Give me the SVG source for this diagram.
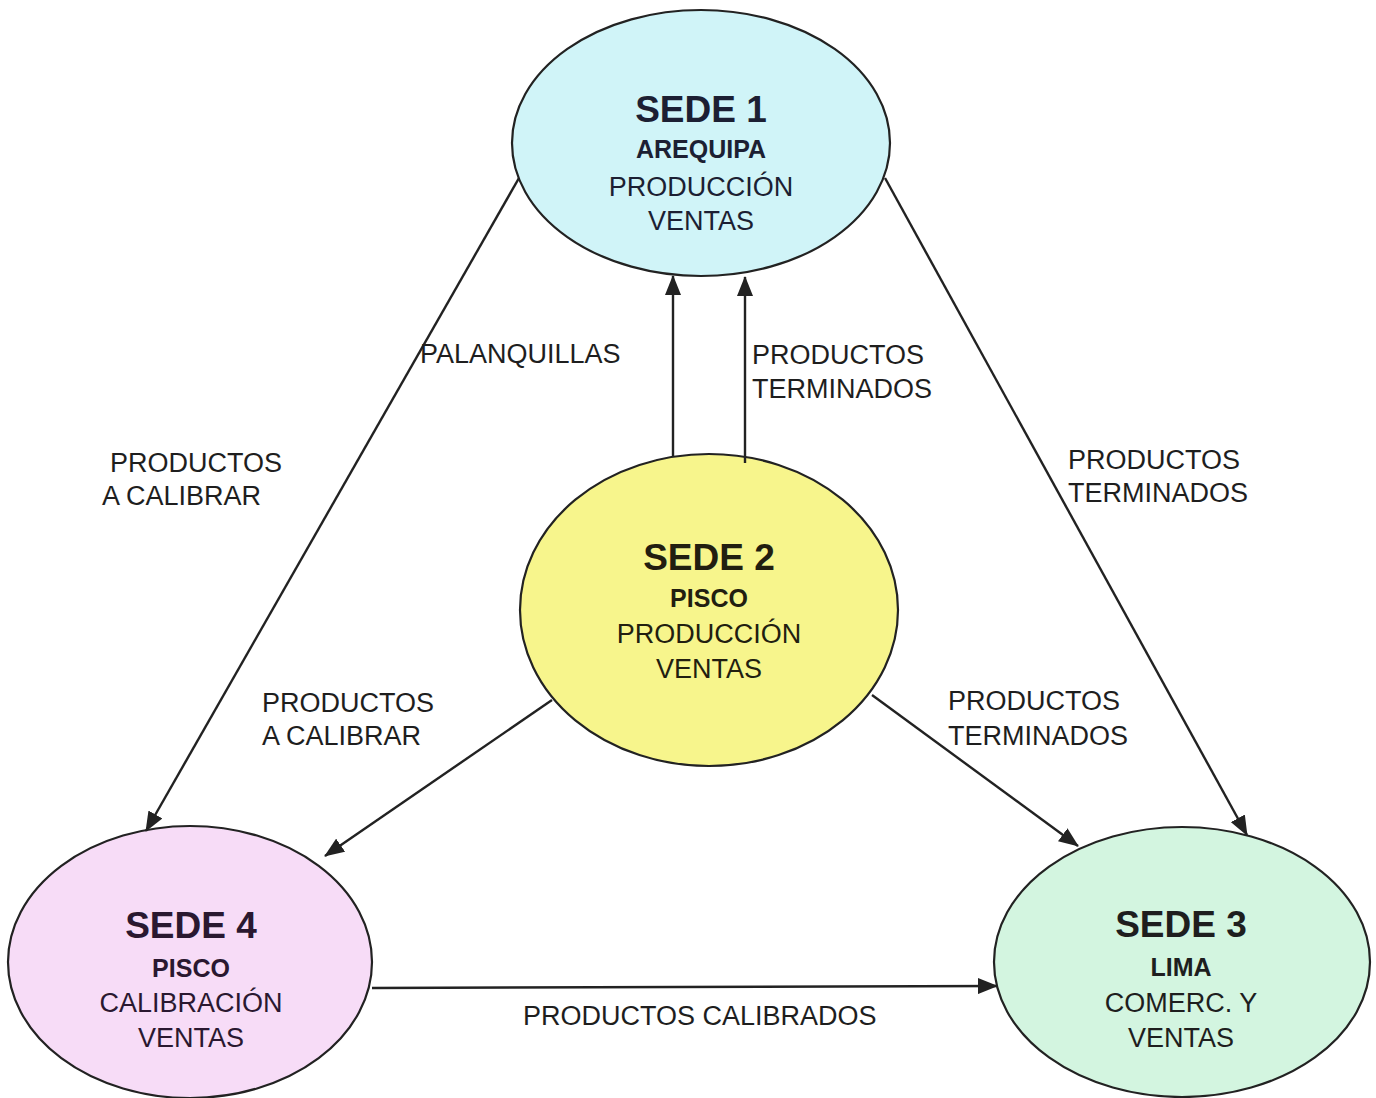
<svg xmlns="http://www.w3.org/2000/svg" width="1376" height="1098" viewBox="0 0 1376 1098">
<style>
.node{stroke:#222;stroke-width:2.2}
.t{font-family:"Liberation Sans",Arial,sans-serif;text-anchor:middle}
.title{font-size:37px;font-weight:bold}
.sub{font-size:25px;font-weight:bold}
.reg{font-size:27px}
.lbl{font-family:"Liberation Sans",Arial,sans-serif;font-size:27px;fill:#1e1e1e}
.edge{stroke:#222;stroke-width:2.4;fill:none;marker-end:url(#ah)}
</style>
<defs>
<marker id="ah" viewBox="0 0 20 16" refX="19" refY="8" markerWidth="20" markerHeight="16" markerUnits="userSpaceOnUse" orient="auto">
<path d="M0,0 L20,8 L0,16 z" fill="#222"/>
</marker>
</defs>
<rect width="1376" height="1098" fill="#ffffff"/>
<g id="sede1">
<ellipse class="node" cx="701" cy="143" rx="189" ry="133" fill="#d0f4f8"/>
<text class="t title" x="701" y="122" fill="#1c1f33">SEDE 1</text>
<text class="t sub" x="701" y="158" fill="#1c1f33">AREQUIPA</text>
<text class="t reg" x="701" y="196" fill="#1c1f33">PRODUCCIÓN</text>
<text class="t reg" x="701" y="230" fill="#1c1f33">VENTAS</text>
</g>
<g id="sede2">
<ellipse class="node" cx="709" cy="610" rx="189" ry="156" fill="#f7f58c"/>
<text class="t title" x="709" y="570" fill="#221e10">SEDE 2</text>
<text class="t sub" x="709" y="607" fill="#221e10">PISCO</text>
<text class="t reg" x="709" y="643" fill="#221e10">PRODUCCIÓN</text>
<text class="t reg" x="709" y="678" fill="#221e10">VENTAS</text>
</g>
<g id="sede4">
<ellipse class="node" cx="190" cy="962" rx="182" ry="136" fill="#f7dcf7"/>
<text class="t title" x="191" y="938" fill="#2a1830">SEDE 4</text>
<text class="t sub" x="191" y="977" fill="#2a1830">PISCO</text>
<text class="t reg" x="191" y="1012" fill="#2a1830">CALIBRACIÓN</text>
<text class="t reg" x="191" y="1047" fill="#2a1830">VENTAS</text>
</g>
<g id="sede3">
<ellipse class="node" cx="1182" cy="962" rx="188" ry="135" fill="#d3f5e0"/>
<text class="t title" x="1181" y="937" fill="#1e1e1e">SEDE 3</text>
<text class="t sub" x="1181" y="976" fill="#1e1e1e">LIMA</text>
<text class="t reg" x="1181" y="1012" fill="#1e1e1e">COMERC. Y</text>
<text class="t reg" x="1181" y="1047" fill="#1e1e1e">VENTAS</text>
</g>
<g id="connectors">
<line class="edge" x1="519" y1="178" x2="146" y2="831"/>
<line class="edge" x1="885" y1="178" x2="1247" y2="835"/>
<line class="edge" x1="673" y1="457" x2="673" y2="276"/>
<line class="edge" x1="745" y1="463" x2="745" y2="277"/>
<line class="edge" x1="552" y1="700" x2="325" y2="856"/>
<line class="edge" x1="872" y1="695" x2="1078" y2="846"/>
<line class="edge" x1="372" y1="988" x2="997" y2="986"/>
</g>
<g id="labels">
<text class="lbl" x="420" y="363">PALANQUILLAS</text>
<text class="lbl" x="752" y="364">PRODUCTOS</text>
<text class="lbl" x="752" y="398">TERMINADOS</text>
<text class="lbl" x="110" y="472">PRODUCTOS</text>
<text class="lbl" x="102" y="505">A CALIBRAR</text>
<text class="lbl" x="1068" y="469">PRODUCTOS</text>
<text class="lbl" x="1068" y="502">TERMINADOS</text>
<text class="lbl" x="262" y="712">PRODUCTOS</text>
<text class="lbl" x="262" y="745">A CALIBRAR</text>
<text class="lbl" x="948" y="710">PRODUCTOS</text>
<text class="lbl" x="948" y="745">TERMINADOS</text>
<text class="lbl" x="523" y="1025">PRODUCTOS CALIBRADOS</text>
</g>
</svg>
